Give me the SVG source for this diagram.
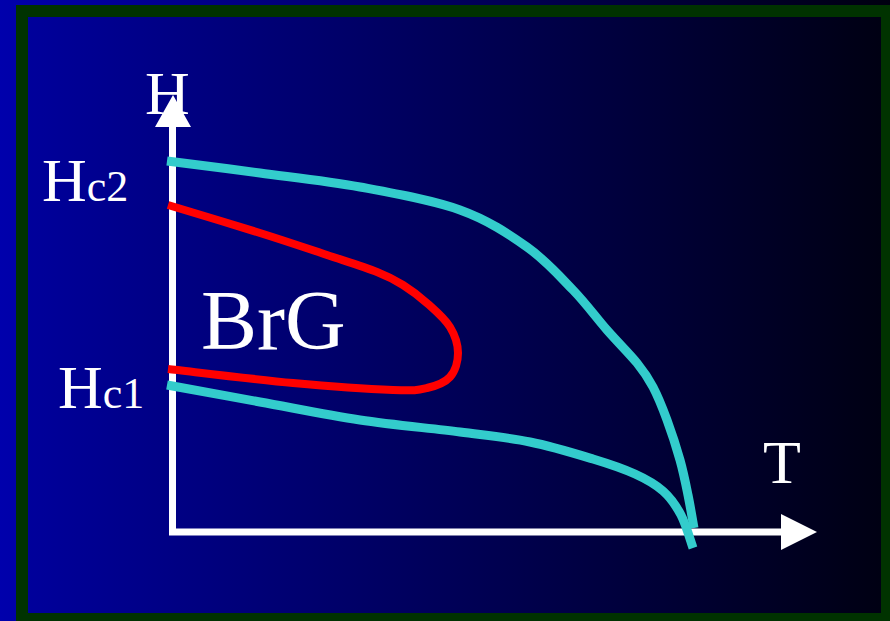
<svg xmlns="http://www.w3.org/2000/svg" width="890" height="621" viewBox="0 0 890 621">
<defs>
<linearGradient id="bg" x1="0" y1="0" x2="1" y2="0">
<stop offset="0" stop-color="#0000AC"/>
<stop offset="1" stop-color="#000010"/>
</linearGradient>
<linearGradient id="panel" x1="0" y1="0" x2="1" y2="0">
<stop offset="0" stop-color="#00009C"/>
<stop offset="1" stop-color="#000012"/>
</linearGradient>
<style>
.lbl{font-family:"Liberation Serif","Times New Roman",serif;fill:#FFFFFF;}
.axis{stroke:#FFFFFF;stroke-width:7;fill:none;}
.head{fill:#FFFFFF;}
.cyan{stroke:#33CCCC;stroke-width:9;fill:none;stroke-linecap:butt;stroke-linejoin:round;}
.red{stroke:#FF0000;stroke-width:8;fill:none;stroke-linecap:butt;stroke-linejoin:round;}
</style>
</defs>
<rect x="0" y="0" width="890" height="621" fill="url(#bg)"/>
<rect x="22" y="11" width="865" height="608" fill="url(#panel)" stroke="#003300" stroke-width="12"/>
<g id="axes">
<path class="axis" d="M172.5,127 V532 H782"/>
<polygon class="head" points="173,95 155,127 191,127"/>
<polygon class="head" points="817,532 781,514 781,550"/>
</g>
<g id="connectors">
<path id="hc2-curve" class="cyan" d="M167,161 C182.5,163 227.8,168.7 260,173 C292.2,177.3 326.7,180.8 360,187 C393.3,193.2 432.2,200 460,210 C487.8,220 508.2,233.7 527,247 C545.8,260.3 559.7,276.2 573,290 C586.3,303.8 596.3,317.8 607,330 C617.7,342.2 629.3,353.5 637,363 C644.7,372.5 648,377.5 653,387 C658,396.5 662.5,407.8 667,420 C671.5,432.2 676.5,447.5 680,460 C683.5,472.5 685.7,483.7 688,495 C690.3,506.3 693,522.5 694,528"/>
<path id="hc1-curve" class="cyan" d="M167,385 C182.5,387.8 227.8,396.2 260,402 C292.2,407.8 326.7,415 360,420 C393.3,425 431.7,428.3 460,432 C488.3,435.7 507.8,437.5 530,442 C552.2,446.5 575.5,453.7 593,459 C610.5,464.3 623.3,468.7 635,474 C646.7,479.3 655.3,484.2 663,491 C670.7,497.8 676,505.5 681,515 C686,524.5 691,542.5 693,548"/>
<path id="brg-curve" class="red" d="M168,205 C183.3,209.7 233.5,224.7 260,233 C286.5,241.3 307.5,248.5 327,255 C346.5,261.5 364.3,267 377,272 C389.7,277 394.5,279.7 403,285 C411.5,290.3 420.2,297 428,304 C435.8,311 445,318.8 450,327 C455,335.2 458,344.7 458,353 C458,361.3 455.2,371.2 450,377 C444.8,382.8 436.5,385.8 427,388 C417.5,390.2 415.3,390.8 393,390 C370.7,389.2 330.5,386.5 293,383 C255.5,379.5 188.8,371.3 168,369"/>
</g>
<g id="label-H"><text class="lbl" x="145" y="114" font-size="62">H</text></g>
<g id="label-T"><text class="lbl" x="763" y="483" font-size="62">T</text></g>
<g id="label-Hc2"><text class="lbl" x="42" y="201" font-size="62">H<tspan font-size="44">c2</tspan></text></g>
<g id="label-Hc1"><text class="lbl" x="58" y="408" font-size="62">H<tspan font-size="44">c1</tspan></text></g>
<g id="label-BrG"><text class="lbl" x="201" y="349" font-size="84">BrG</text></g>
</svg>
